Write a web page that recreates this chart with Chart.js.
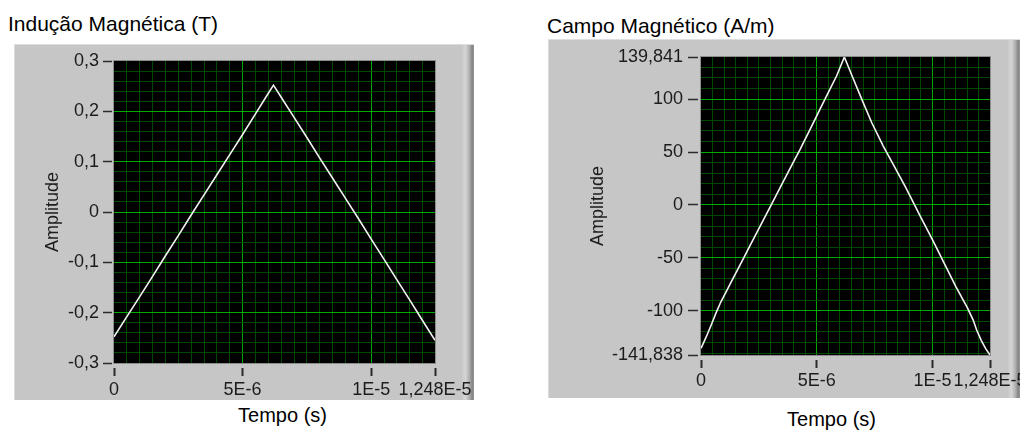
<!DOCTYPE html>
<html>
<head>
<meta charset="utf-8">
<script src="https://cdn.jsdelivr.net/npm/chart.js@4.4.1/dist/chart.umd.min.js"></script>
<style>
html,body{margin:0;padding:0;background:#fff;width:1020px;height:430px;overflow:hidden;position:relative;font-family:"Liberation Sans",Arial,sans-serif;}
.panel{position:absolute;background:#c6c6c6;box-sizing:border-box;border-top:1px solid #dedede;border-left:1px solid #dadada;}
.panel .shade{position:absolute;top:0;bottom:0;right:0;width:12px;background:linear-gradient(to right,#cacaca,#d4d4d4 30%,#b2b2b2 60%,#848484 85%,#9a9a9a);}
.title{position:absolute;font-size:21px;line-height:21px;color:#000;white-space:nowrap;}
.xt{position:absolute;font-size:20px;line-height:20px;color:#000;white-space:nowrap;transform:translateX(-50%);}
canvas{position:absolute;top:0;}
</style>
</head>
<body>
<div class="panel" style="left:14px;top:44px;width:460px;height:356px"><div class="shade"></div></div>
<div class="panel" style="left:548px;top:39px;width:472px;height:359px"><div class="shade"></div></div>
<div class="title" style="left:8px;top:13px">Indução Magnética (T)</div>
<div class="title" style="left:547px;top:15px">Campo Magnético (A/m)</div>
<div class="xt" style="left:282.5px;top:405px">Tempo (s)</div>
<div class="xt" style="left:831.5px;top:409px">Tempo (s)</div>
<canvas id="cB" width="500" height="430" style="left:0px"></canvas>
<canvas id="cH" width="500" height="430" style="left:520px"></canvas>
<script>
// ---- data ----
const timeB = [0, 0.5e-6, 1e-6, 1.5e-6, 2e-6, 2.5e-6, 3e-6, 3.5e-6, 4e-6, 4.5e-6, 5e-6, 5.5e-6, 6e-6, 6.2e-6,
               6.5e-6, 7e-6, 7.5e-6, 8e-6, 8.5e-6, 9e-6, 9.5e-6, 1e-5, 1.05e-5, 1.1e-5, 1.15e-5, 1.2e-5, 1.248e-5];
const valB  = [-0.248, -0.208, -0.168, -0.128, -0.087, -0.047, -0.006, 0.034, 0.074, 0.114, 0.154, 0.195, 0.236, 0.252,
               0.228, 0.188, 0.148, 0.107, 0.067, 0.027, -0.013, -0.054, -0.094, -0.135, -0.175, -0.216, -0.255];

const timeH = [0, 0.22e-6, 0.45e-6, 0.65e-6, 0.85e-6, 1.3e-6, 1.75e-6, 2.2e-6, 2.65e-6, 3.1e-6, 3.55e-6, 4.0e-6,
               4.28e-6, 4.71e-6, 5.14e-6, 5.5e-6, 5.86e-6, 6.19e-6, 6.58e-6, 6.94e-6, 7.37e-6, 7.87e-6, 8.3e-6,
               8.81e-6, 9.03e-6, 9.5e-6, 1.0e-5, 1.05e-5, 1.1e-5, 1.15e-5, 1.175e-5, 1.19e-5, 1.21e-5, 1.23e-5, 1.248e-5];
const valH  = [-135.5, -125, -113, -102, -92, -73, -54, -35, -16, 3, 22, 41,
               52.6, 71.5, 90.5, 106.4, 122.1, 139.841, 119, 100, 77.9, 55.7, 38.4,
               17.8, 8.3, -12, -33, -55, -77, -97, -108.6, -118, -128, -136, -141.838];

// ---- axes / tick labels ----
const xMin = 0, xMax = 1.248e-5, xMinorStep = 5e-7;
const xMajorValues = [0, 5e-6, 1e-5, 1.248e-5];
const xMajorLabels = ['0', '5E-6', '1E-5', '1,248E-5'];

const yBMin = -0.3, yBMax = 0.3, yBMinorStep = 0.02;
const yBMajorValues = [0.3, 0.2, 0.1, 0, -0.1, -0.2, -0.3];
const yBMajorLabels = ['0,3', '0,2', '0,1', '0', '-0,1', '-0,2', '-0,3'];

const yHMin = -141.838, yHMax = 139.841, yHMinorStep = 10;
const yHMajorValues = [139.841, 100, 50, 0, -50, -100, -141.838];
const yHMajorLabels = ['139,841', '100', '50', '0', '-50', '-100', '-141,838'];

const FONT = '"Liberation Sans", Arial, sans-serif';
const MINOR = '#004a00', MAJOR = '#00aa00', TICKC = '#2a2a2a', TXT = '#1c1c1c';

function gridValues(min, max, step) {
  const out = [min];
  const k0 = Math.ceil(min / step - 1e-6), k1 = Math.floor(max / step + 1e-6);
  for (let k = k0; k <= k1; k++) {
    const v = +(k * step).toPrecision(10);
    if (v > min + step * 1e-3 && v < max - step * 1e-3) out.push(v);
  }
  out.push(max);
  return out;
}
function majorIndex(v, majors, step) {
  return majors.findIndex(m => Math.abs(m - v) <= step * 1e-3);
}

function makeAxis(o) {
  const isX = o.axis === 'x';
  return {
    type: 'linear',
    position: isX ? 'bottom' : 'left',
    min: o.min, max: o.max,
    afterBuildTicks: s => { s.ticks = gridValues(o.min, o.max, o.step).map(v => ({ value: v })); },
    afterFit: s => {
      if (isX) { s.height = o.size; s.paddingLeft = 0; s.paddingRight = 0; }
      else { s.width = o.size; s.paddingTop = 0; s.paddingBottom = 0; }
    },
    border: { display: false },
    grid: {
      lineWidth: 1,
      color: c => {
        const v = c.tick ? c.tick.value : null;
        if (v === null) return MINOR;
        if (Math.abs(v - o.min) < o.step * 1e-3 || Math.abs(v - o.max) < o.step * 1e-3) return 'rgba(0,0,0,0)';
        return majorIndex(v, o.majors, o.step) >= 0 ? MAJOR : MINOR;
      },
      drawTicks: true,
      tickLength: o.tickLength,
      tickBorderDash: o.tickDash,
      tickWidth: o.tickWidth,
      tickColor: c => (c.tick && majorIndex(c.tick.value, o.majors, o.step) >= 0) ? TICKC : 'rgba(0,0,0,0)'
    },
    ticks: {
      autoSkip: false, maxRotation: 0, minRotation: 0,
      padding: o.labelPad,
      color: TXT,
      font: { family: FONT, size: 18 },
      callback: v => { const i = majorIndex(v, o.majors, o.step); return i >= 0 ? o.labels[i] : ''; }
    },
    title: o.title ? {
      display: true, text: o.title, color: TXT,
      font: { family: FONT, size: 18 },
      padding: { top: o.titlePad, bottom: 0 }
    } : { display: false }
  };
}

const plotFrame = {
  id: 'plotFrame',
  beforeDraw(chart) {
    const { ctx, chartArea: a } = chart;
    ctx.save();
    ctx.fillStyle = '#000';
    ctx.fillRect(a.left, a.top, a.right - a.left, a.bottom - a.top);
    ctx.restore();
  },
  beforeDatasetsDraw(chart) {
    const { ctx, chartArea: a } = chart;
    ctx.save();
    ctx.strokeStyle = '#8c8c8c';
    ctx.lineWidth = 1;
    ctx.strokeRect(a.left - 0.5, a.top - 0.5, a.right - a.left + 1, a.bottom - a.top + 1);
    ctx.restore();
  }
};

function makeChart(id, times, vals, yCfg, xCfg, pad) {
  return new Chart(document.getElementById(id), {
    type: 'line',
    data: {
      datasets: [{
        data: times.map((t, i) => ({ x: t, y: vals[i] })),
        borderColor: '#f2f2f2', borderWidth: 1.6,
        pointRadius: 0, tension: 0, fill: false
      }]
    },
    options: {
      responsive: false, animation: false, devicePixelRatio: 1,
      layout: { padding: pad },
      plugins: { legend: { display: false }, tooltip: { enabled: false } },
      scales: { x: makeAxis(xCfg), y: makeAxis(yCfg) }
    },
    plugins: [plotFrame]
  });
}

// left chart: plot area x 114..435, y 61..363 (canvas at 0)
makeChart('cB', timeB, valB,
  { axis: 'y', min: yBMin, max: yBMax, step: yBMinorStep, majors: yBMajorValues, labels: yBMajorLabels,
    size: 84, tickLength: 11, tickDash: [9, 100], tickWidth: 1.5, labelPad: 4, title: 'Amplitude', titlePad: 12 },
  { axis: 'x', min: xMin, max: xMax, step: xMinorStep, majors: xMajorValues, labels: xMajorLabels,
    size: 67, tickLength: 13, tickDash: [0, 5, 8, 100], tickWidth: 2, labelPad: 3 },
  { left: 30, right: 65, top: 61, bottom: 0 });

// right chart: plot area x 701..990, y 57..355 (canvas at 520)
makeChart('cH', timeH, valH,
  { axis: 'y', min: yHMin, max: yHMax, step: yHMinorStep, majors: yHMajorValues, labels: yHMajorLabels,
    size: 141, tickLength: 13, tickDash: [10, 100], tickWidth: 1.5, labelPad: 5, title: 'Amplitude', titlePad: 27 },
  { axis: 'x', min: xMin, max: xMax, step: xMinorStep, majors: xMajorValues, labels: xMajorLabels,
    size: 75, tickLength: 13, tickDash: [0, 5, 8, 100], tickWidth: 2, labelPad: 2 },
  { left: 40, right: 30, top: 57, bottom: 0 });
</script>
</body>
</html>
